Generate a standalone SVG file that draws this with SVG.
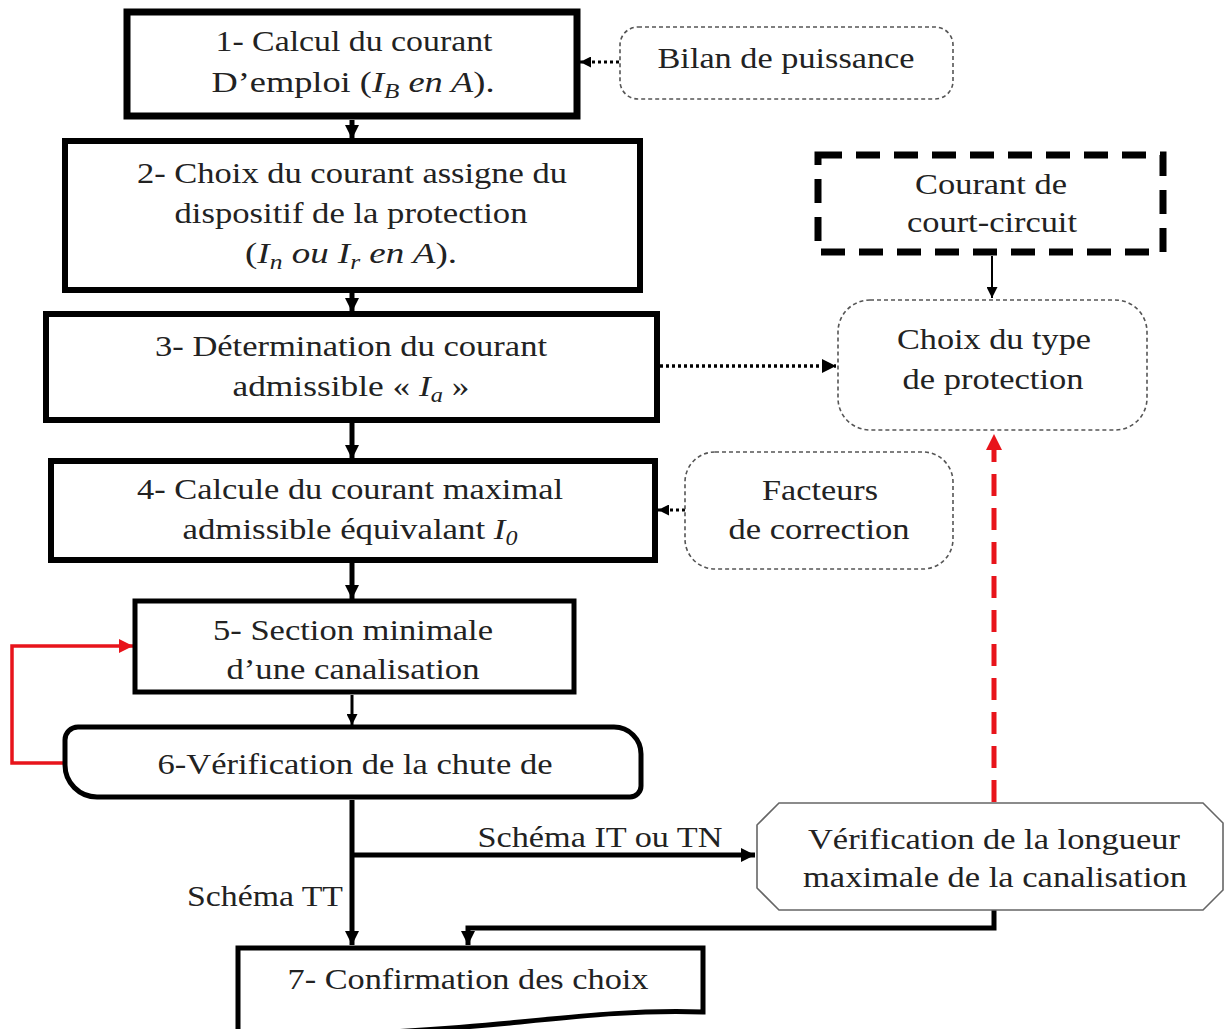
<svg xmlns="http://www.w3.org/2000/svg" width="1225" height="1029" viewBox="0 0 1225 1029">
<defs>
<style>
text{font-family:"Liberation Serif","Times New Roman",Tinos,serif;font-size:29px;fill:#222;text-anchor:middle}
.m{font-style:italic}
.sub{font-size:20px;font-style:italic}
.box{fill:#fff;stroke:#000}
.soft{fill:#fff;stroke:#555;stroke-width:1.6;stroke-dasharray:4 3}
.ln{fill:none;stroke:#000}
</style>
<marker id="ah" viewBox="0 0 10 10" refX="10" refY="5" markerWidth="14" markerHeight="14" markerUnits="userSpaceOnUse" orient="auto"><path d="M0,0 L10,5 L0,10 z" fill="#000"/></marker>
<marker id="ahs" viewBox="0 0 10 10" refX="10" refY="5" markerWidth="11" markerHeight="11" markerUnits="userSpaceOnUse" orient="auto"><path d="M0,0 L10,5 L0,10 z" fill="#000"/></marker>
<marker id="ahr" viewBox="0 0 10 10" refX="10" refY="5" markerWidth="14" markerHeight="14" markerUnits="userSpaceOnUse" orient="auto"><path d="M0,0 L10,5 L0,10 z" fill="#e8141b"/></marker>
<marker id="ahr2" viewBox="0 0 10 10" refX="10" refY="5" markerWidth="16" markerHeight="16" markerUnits="userSpaceOnUse" orient="auto"><path d="M0,0 L10,5 L0,10 z" fill="#e8141b"/></marker>
</defs>

<g id="connectors">
<line class="ln" x1="352" y1="120" x2="352" y2="139" stroke-width="5" marker-end="url(#ah)"/>
<line class="ln" x1="352" y1="293" x2="352" y2="312" stroke-width="5" marker-end="url(#ah)"/>
<line class="ln" x1="352" y1="423" x2="352" y2="459" stroke-width="5" marker-end="url(#ah)"/>
<line class="ln" x1="352" y1="563" x2="352" y2="599" stroke-width="5" marker-end="url(#ah)"/>
<line class="ln" x1="352" y1="695" x2="352" y2="725" stroke-width="3" marker-end="url(#ahs)"/>
<line class="ln" x1="352" y1="800" x2="352" y2="945" stroke-width="5" marker-end="url(#ah)"/>
<line class="ln" x1="352" y1="855" x2="755" y2="855" stroke-width="5" marker-end="url(#ah)"/>
<path class="ln" d="M994,910 V928 H468 V945" stroke-width="5" marker-end="url(#ah)"/>
<path d="M65,763 H12 V646 H133" fill="none" stroke="#e8141b" stroke-width="3.5" marker-end="url(#ahr)"/>
<path d="M994,802 V434" fill="none" stroke="#e8141b" stroke-width="5" stroke-dasharray="22 12" marker-end="url(#ahr2)"/>
<path class="ln" d="M619,62 H580" stroke-width="3" stroke-dasharray="3 3" marker-end="url(#ahs)"/>
<path class="ln" d="M660,366 H836" stroke-width="3.5" stroke-dasharray="3 3" marker-end="url(#ah)"/>
<path class="ln" d="M685,510 H658" stroke-width="3" stroke-dasharray="3 3" marker-end="url(#ahs)"/>
<line class="ln" x1="992" y1="256" x2="992" y2="298" stroke-width="2" marker-end="url(#ahs)"/>
<text x="600" y="847" textLength="245" lengthAdjust="spacingAndGlyphs">Schéma IT ou TN</text>
<text x="265" y="906" textLength="156" lengthAdjust="spacingAndGlyphs">Schéma TT</text>
</g>

<g id="n1">
<rect class="box" x="127" y="12" width="450" height="104" stroke-width="7"/>
<text x="354" y="51" textLength="277" lengthAdjust="spacingAndGlyphs">1- Calcul du courant</text>
<text x="353" y="92" textLength="283" lengthAdjust="spacingAndGlyphs">D’emploi (<tspan class="m">I</tspan><tspan class="sub" dy="6">B</tspan><tspan class="m" dy="-6"> en A</tspan>).</text>
</g>

<g id="bilan">
<rect class="soft" x="620" y="27" width="333" height="72" rx="18"/>
<text x="786" y="68" textLength="257" lengthAdjust="spacingAndGlyphs">Bilan de puissance</text>
</g>

<g id="n2">
<rect class="box" x="65" y="141" width="575" height="149" stroke-width="6"/>
<text x="352" y="183" textLength="430" lengthAdjust="spacingAndGlyphs">2- Choix du courant assigne du</text>
<text x="351" y="223" textLength="353" lengthAdjust="spacingAndGlyphs">dispositif de la protection</text>
<text x="351" y="263" textLength="212" lengthAdjust="spacingAndGlyphs">(<tspan class="m">I</tspan><tspan class="sub" dy="6">n</tspan><tspan class="m" dy="-6"> ou I</tspan><tspan class="sub" dy="6">r</tspan><tspan class="m" dy="-6"> en A</tspan>).</text>
</g>

<g id="n3">
<rect class="box" x="46" y="314" width="611" height="106" stroke-width="6"/>
<text x="351" y="356" textLength="392" lengthAdjust="spacingAndGlyphs">3- Détermination du courant</text>
<text x="351" y="396" textLength="237" lengthAdjust="spacingAndGlyphs">admissible « <tspan class="m">I</tspan><tspan class="sub" dy="6">a</tspan><tspan dy="-6"> »</tspan></text>
</g>

<g id="n4">
<rect class="box" x="51" y="461" width="604" height="99" stroke-width="6"/>
<text x="350" y="499" textLength="426" lengthAdjust="spacingAndGlyphs">4- Calcule du courant maximal</text>
<text x="350" y="539" textLength="335" lengthAdjust="spacingAndGlyphs">admissible équivalant <tspan class="m">I</tspan><tspan class="sub" dy="6">0</tspan></text>
</g>

<g id="n5">
<rect class="box" x="135" y="601" width="439" height="91" stroke-width="5"/>
<text x="353" y="640" textLength="280" lengthAdjust="spacingAndGlyphs">5- Section minimale</text>
<text x="353" y="679" textLength="253" lengthAdjust="spacingAndGlyphs">d’une canalisation</text>
</g>

<g id="n6">
<path class="box" stroke-width="5" d="M78,727 H614 A27,27 0 0 1 641,754 V786 A11,11 0 0 1 630,797 H97 A32,32 0 0 1 65,765 V740 A13,13 0 0 1 78,727 Z"/>
<text x="355" y="774" textLength="395" lengthAdjust="spacingAndGlyphs">6-Vérification de la chute de</text>
</g>

<g id="n7">
<path class="box" stroke-width="5" d="M238,1040 V948 H703 V1012 C640,1010 590,1015 520,1022 C440,1030 330,1036 238,1040 Z"/>
<text x="468" y="989" textLength="361" lengthAdjust="spacingAndGlyphs">7- Confirmation des choix</text>
</g>

<g id="court">
<rect x="818" y="155" width="345" height="97" fill="#fff" stroke="#000" stroke-width="7" stroke-dasharray="24 14"/>
<text x="991" y="194" textLength="152" lengthAdjust="spacingAndGlyphs">Courant de</text>
<text x="992" y="232" textLength="170" lengthAdjust="spacingAndGlyphs">court-circuit</text>
</g>

<g id="choix">
<rect class="soft" x="838" y="300" width="309" height="130" rx="32"/>
<text x="994" y="349" textLength="194" lengthAdjust="spacingAndGlyphs">Choix du type</text>
<text x="993" y="389" textLength="181" lengthAdjust="spacingAndGlyphs">de protection</text>
</g>

<g id="facteurs">
<rect class="soft" x="685" y="452" width="268" height="117" rx="30"/>
<text x="820" y="500" textLength="116" lengthAdjust="spacingAndGlyphs">Facteurs</text>
<text x="819" y="539" textLength="181" lengthAdjust="spacingAndGlyphs">de correction</text>
</g>

<g id="verif">
<path d="M779,803 H1203 L1223,823 V890 L1203,910 H779 L757,888 V825 Z" fill="#fff" stroke="#666" stroke-width="1.6"/>
<text x="994" y="849" textLength="372" lengthAdjust="spacingAndGlyphs">Vérification de la longueur</text>
<text x="995" y="887" textLength="384" lengthAdjust="spacingAndGlyphs">maximale de la canalisation</text>
</g>
</svg>
